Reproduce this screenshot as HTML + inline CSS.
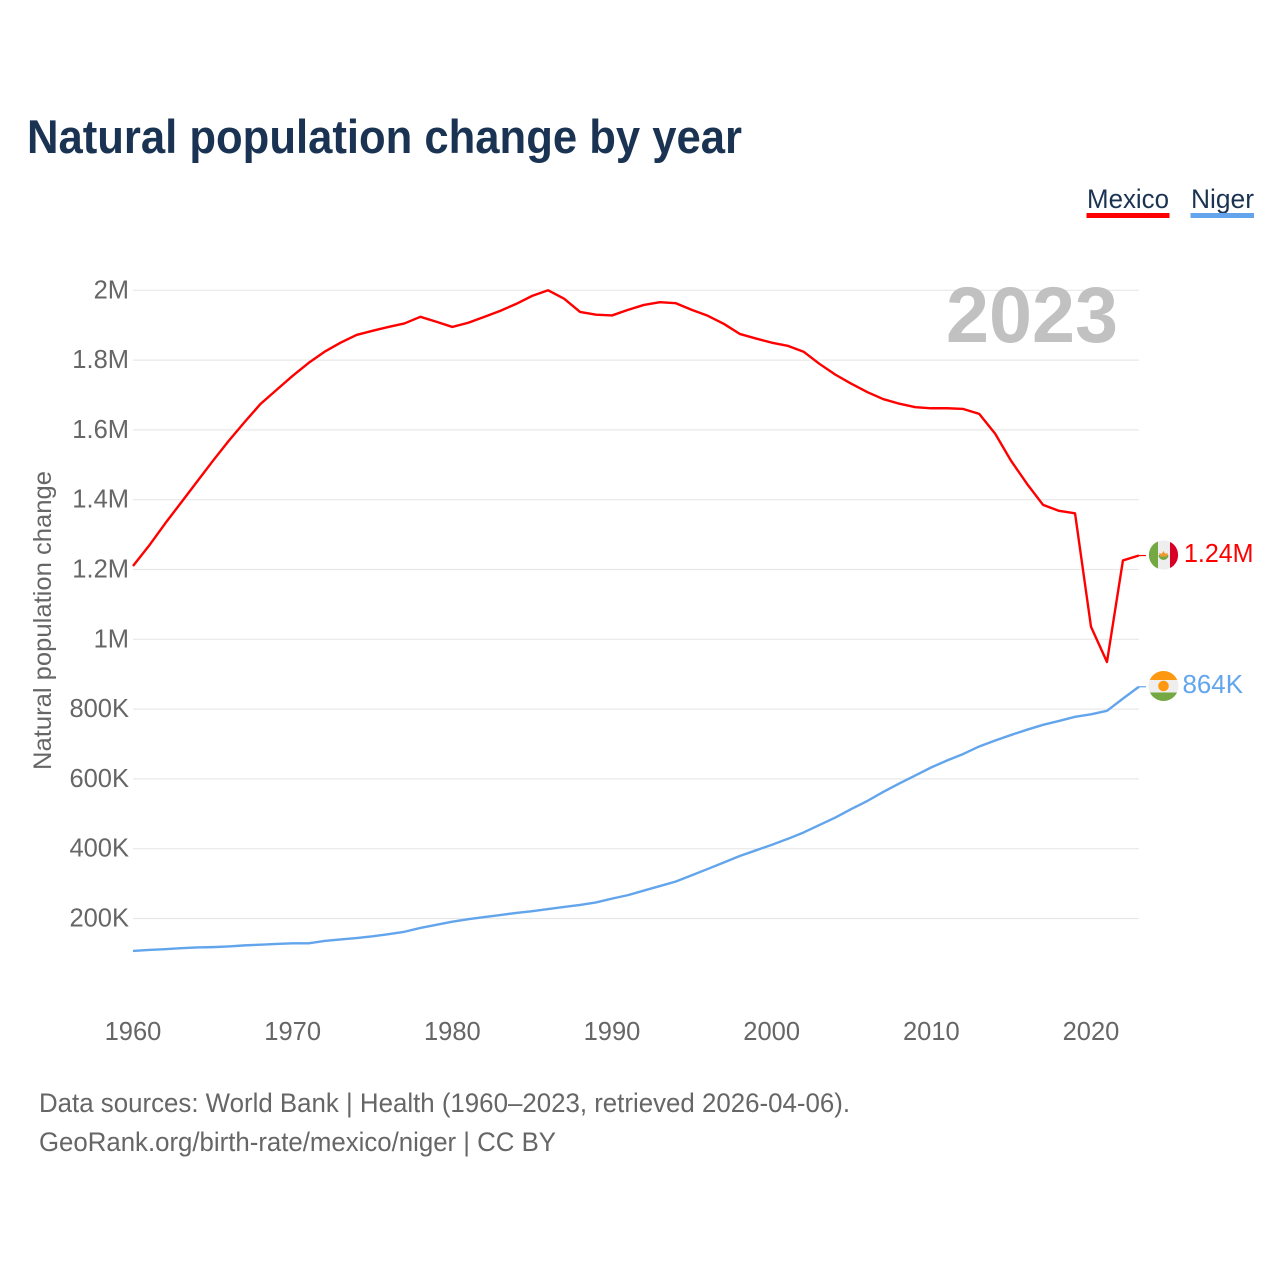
<!DOCTYPE html>
<html lang="en">
<head>
<meta charset="utf-8">
<title>Natural population change by year</title>
<style>
html,body{margin:0;padding:0;background:#fff;width:1280px;height:1280px;overflow:hidden}
svg{display:block}
text{font-family:"Liberation Sans",sans-serif}
</style>
</head>
<body>
<svg id="chart" xmlns="http://www.w3.org/2000/svg" width="1280" height="1280" viewBox="0 0 1280 1280">
  <rect x="0" y="0" width="1280" height="1280" fill="#fff"/>
  <text x="27" y="153" font-size="47" font-weight="700" fill="#1a3353" textLength="715" lengthAdjust="spacingAndGlyphs">Natural population change by year</text>

  <g>
    <text x="1087" y="208" font-size="27" fill="#1a3353" textLength="82" lengthAdjust="spacingAndGlyphs">Mexico</text>
    <rect x="1086.5" y="213" width="83" height="5" fill="#ff0000"/>
  </g>
  <g>
    <text x="1191" y="208" font-size="27" fill="#1a3353" textLength="63" lengthAdjust="spacingAndGlyphs">Niger</text>
    <rect x="1190.5" y="213" width="63.5" height="5" fill="#62a5ec"/>
  </g>

  <g id="grid"></g>
  <text x="946" y="342" font-size="79" font-weight="700" fill="#c1c1c1" textLength="172" lengthAdjust="spacingAndGlyphs">2023</text>
  <g id="yticks"></g>
  <g id="xticks"></g>
  <text transform="translate(51,770) rotate(-90)" x="0" y="0" font-size="25" fill="#666" textLength="299" lengthAdjust="spacingAndGlyphs">Natural population change</text>
  <g id="series"></g>

  <defs>
    <clipPath id="clip-mexico"><circle cx="1163.5" cy="555" r="14.6"/></clipPath>
    <clipPath id="clip-niger"><circle cx="1163.5" cy="686" r="15"/></clipPath>
  </defs>
  <g clip-path="url(#clip-mexico)">
    <rect x="1148" y="540" width="32" height="30" fill="#eeeeee"/>
    <rect x="1148" y="540" width="10" height="30" fill="#73a843"/>
    <rect x="1170" y="540" width="10" height="30" fill="#d80027"/>
    <path d="M1158.5 555 a5 5 0 0 0 10 0 z" fill="#73a843"/>
    <path d="M1163.5 551 l1.6 2.6 3-.4 -1.5 3.4 h-6.2 l-1.5 -3.4 3 .4 z" fill="#ef9a2c"/>
  </g>
  <g clip-path="url(#clip-niger)">
    <rect x="1148" y="670" width="32" height="32" fill="#eeeeee"/>
    <rect x="1148" y="670" width="32" height="10" fill="#ff9811"/>
    <rect x="1148" y="692.5" width="32" height="10" fill="#73a843"/>
    <circle cx="1163.5" cy="686" r="5.3" fill="#ff9811"/>
  </g>
  <text x="1184" y="562" font-size="25.5" fill="#ff0000" textLength="69.5" lengthAdjust="spacingAndGlyphs">1.24M</text>
  <text x="1182.5" y="693" font-size="25.5" fill="#62a5ec" textLength="60.5" lengthAdjust="spacingAndGlyphs">864K</text>

  <text x="39" y="1112" font-size="26.5" fill="#666" textLength="811" lengthAdjust="spacingAndGlyphs">Data sources: World Bank | Health (1960–2023, retrieved 2026-04-06).</text>
  <text x="39" y="1151" font-size="26.5" fill="#666" textLength="517" lengthAdjust="spacingAndGlyphs">GeoRank.org/birth-rate/mexico/niger | CC BY</text>
</svg>
<script>
const startYear = 1960;
const mexicoValues = [
  1210000,1268000,1331000,1391000,1451000,1511000,1569000,1623000,1675000,1715000,
  1755000,1792000,1824000,1850000,1872000,1884000,1895000,1905000,1924000,1910000,
  1895000,1907000,1924000,1941000,1961000,1984000,2000000,1976000,1938000,1930000,
  1928000,1944000,1958000,1966000,1963000,1944000,1927000,1904000,1875000,1862000,
  1850000,1841000,1824000,1789000,1758000,1732000,1708000,1688000,1675000,1665000,
  1662000,1662000,1660000,1646000,1589000,1511000,1445000,1385000,1368000,1361000,
  1036000,935000,1226000,1240000
];
const nigerValues = [
  107000,110000,112000,115000,117000,118000,120000,123000,125000,127000,
  129000,129000,135600,140000,144000,149000,155000,162000,173000,182000,
  191000,198000,204000,210000,216000,221000,227000,233000,239000,246000,
  257000,267000,280000,293000,306000,324000,342000,360500,379000,395000,
  411000,428000,446500,468000,489500,514000,537000,563000,587000,610000,
  633000,653000,671500,693000,710000,726000,741000,755000,766000,778000,
  785000,795000,830000,864000
];
const yTickValues = [200000,400000,600000,800000,1000000,1200000,1400000,1600000,1800000,2000000];
const yTickLabels = ["200K","400K","600K","800K","1M","1.2M","1.4M","1.6M","1.8M","2M"];
const xTickYears = [1960,1970,1980,1990,2000,2010,2020];
const xTickLabels = ["1960","1970","1980","1990","2000","2010","2020"];

const NS = "http://www.w3.org/2000/svg";
const xAt = function (year) { return 133 + (year - 1960) * (1138.9 - 133) / 63; };
const yAt = function (value) { return 988.3 - value * (698 / 2000000); };

const gridGroup = document.getElementById("grid");
const yTickGroup = document.getElementById("yticks");
const xTickGroup = document.getElementById("xticks");
const seriesGroup = document.getElementById("series");

yTickValues.forEach(function (value, i) {
  const line = document.createElementNS(NS, "line");
  
  
  line.setAttribute("x1", 133);
  line.setAttribute("x2", 1138.9);
  line.setAttribute("y1", yAt(value));
  line.setAttribute("y2", yAt(value));
  line.setAttribute("stroke", "#e8e8e8");
  line.setAttribute("stroke-width", "1.2");
  gridGroup.appendChild(line);

  const label = document.createElementNS(NS, "text");
  
  
  label.setAttribute("x", 129);
  label.setAttribute("y", yAt(value) + 8);
  label.setAttribute("text-anchor", "end");
  label.setAttribute("font-size", "25.5");
  label.setAttribute("fill", "#666");
  label.textContent = yTickLabels[i];
  yTickGroup.appendChild(label);
});

xTickYears.forEach(function (year, i) {
  const label = document.createElementNS(NS, "text");
  
  
  label.setAttribute("x", xAt(year));
  label.setAttribute("y", 1040);
  label.setAttribute("text-anchor", "middle");
  label.setAttribute("font-size", "25.5");
  label.setAttribute("fill", "#666");
  label.textContent = xTickLabels[i];
  xTickGroup.appendChild(label);
});

const toPoints = function (values) {
  return values.map(function (value, i) {
    return xAt(startYear + i).toFixed(2) + "," + yAt(value).toFixed(2);
  }).join(" ");
};

const nigerLine = document.createElementNS(NS, "polyline");


nigerLine.setAttribute("points", toPoints(nigerValues));
nigerLine.setAttribute("fill", "none");
nigerLine.setAttribute("stroke", "#62a5ec");
nigerLine.setAttribute("stroke-width", "2.4");
nigerLine.setAttribute("stroke-linejoin", "round");
seriesGroup.appendChild(nigerLine);

const mexicoLine = document.createElementNS(NS, "polyline");


mexicoLine.setAttribute("points", toPoints(mexicoValues));
mexicoLine.setAttribute("fill", "none");
mexicoLine.setAttribute("stroke", "#ff0000");
mexicoLine.setAttribute("stroke-width", "2.4");
mexicoLine.setAttribute("stroke-linejoin", "round");
seriesGroup.appendChild(mexicoLine);

const lastIndexMexico = mexicoValues.length - 1;
const lastIndexNiger = nigerValues.length - 1;

const leaderMexico = document.createElementNS(NS, "line");


leaderMexico.setAttribute("x1", xAt(startYear + lastIndexMexico));
leaderMexico.setAttribute("x2", 1146);
leaderMexico.setAttribute("y1", yAt(mexicoValues[lastIndexMexico]));
leaderMexico.setAttribute("y2", yAt(mexicoValues[lastIndexMexico]));
leaderMexico.setAttribute("stroke", "#ff0000");
leaderMexico.setAttribute("stroke-width", "1.2");
seriesGroup.appendChild(leaderMexico);

const leaderNiger = document.createElementNS(NS, "line");


leaderNiger.setAttribute("x1", xAt(startYear + lastIndexNiger));
leaderNiger.setAttribute("x2", 1146);
leaderNiger.setAttribute("y1", yAt(nigerValues[lastIndexNiger]));
leaderNiger.setAttribute("y2", yAt(nigerValues[lastIndexNiger]));
leaderNiger.setAttribute("stroke", "#62a5ec");
leaderNiger.setAttribute("stroke-width", "1.2");
seriesGroup.appendChild(leaderNiger);
</script>
</body>
</html>
